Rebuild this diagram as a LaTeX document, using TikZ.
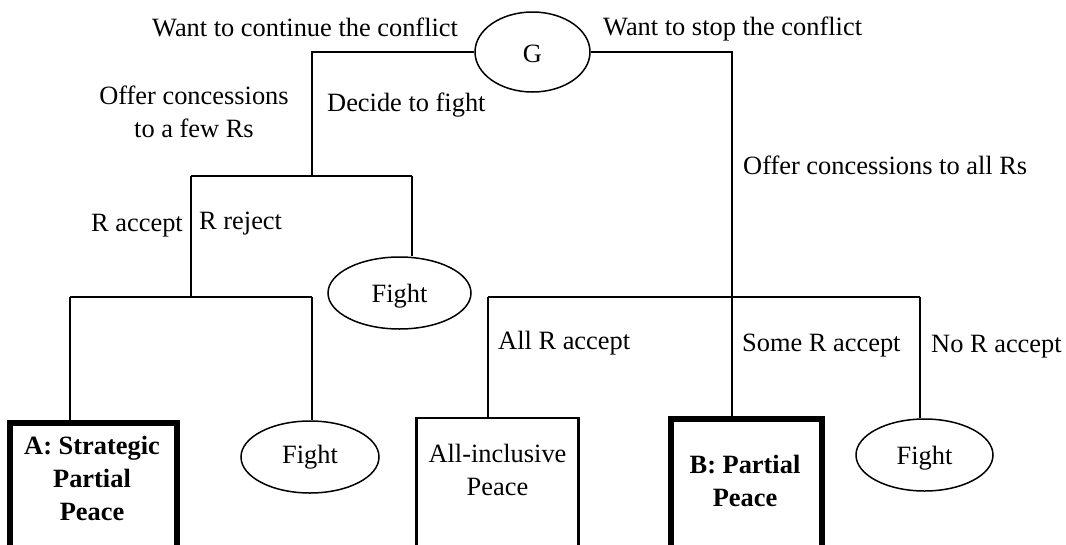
\documentclass[tikz,border=0pt]{standalone}
\usepackage{fontspec}
\setmainfont{Liberation Serif}
\usetikzlibrary{shapes.geometric}
\begin{document}
\begin{tikzpicture}[x=1pt,y=-1pt,
  every node/.style={font=\fontsize{26.4}{33}\selectfont, inner sep=0pt},
  conn/.style={line width=1.7pt},
  oval/.style={ellipse, draw, line width=1.5pt},
  thickbox/.style={rectangle, draw, line width=6pt, anchor=north},
  thinbox/.style={rectangle, draw, line width=2.8pt, anchor=north},
  lbl/.style={anchor=base west},
  boxtext/.style={align=center, font=\bfseries\fontsize{26.4}{33}\selectfont}]
\useasboundingbox (0,0) rectangle (1066,544);
\clip (0,0) rectangle (1066,544);

% decision nodes and outcomes
\node[oval, minimum width=115, minimum height=80, text height=20, text depth=0] (G) at (532.5,52) {G};
\node[oval, minimum width=143, minimum height=72, text depth=0] (F1) at (399.5,293) {Fight};
\node[oval, minimum width=138, minimum height=72] (F2) at (310,457) {Fight};
\node[oval, minimum width=137, minimum height=72, text depth=0] (F3) at (924.5,455) {Fight};

\node[thickbox, minimum width=166.5, minimum height=170] (A) at (93.25,420) {};
\node[thinbox, minimum width=162, minimum height=170] (AI) at (497.5,416.5) {};
\node[thickbox, minimum width=151.5, minimum height=170] (B) at (746.25,416) {};

\node[boxtext] (Atext) at (92,478.5) {A: Strategic\\Partial\\Peace};
\node[align=center] (AItext) at (497.5,469.5) {All-inclusive\\Peace};
\node[boxtext] (Btext) at (745,481) {B: Partial\\Peace};

% junctions
\coordinate (jL) at (312,176);
\coordinate (jLa) at (191,176);
\coordinate (jLb) at (412,176);
\coordinate (jA) at (191,297);
\coordinate (jAa) at (70,297);
\coordinate (jAb) at (312,297);
\coordinate (jR) at (732,297);
\coordinate (jRa) at (488,297);
\coordinate (jRb) at (920,297);

% connectors
\draw[conn] (G.west) -| (jL);
\draw[conn] (jLa) -- (jLb);
\draw[conn] (jLb) -- (jLb |- F1.north);
\draw[conn] (jLa) -- (jA);
\draw[conn] (jAa) -- (jAb);
\draw[conn] (jAa) -- (jAa |- A.north);
\draw[conn] (jAb) -- (jAb |- F2.north);
\draw[conn] (G.east) -| (jR);
\draw[conn] (jRa) -- (jRb);
\draw[conn] (jRa) -- (jRa |- AI.north);
\draw[conn] (jR) -- (jR |- B.north);
\draw[conn] (jRb) -- (jRb |- F3.north);

% labels
\node[lbl] (lcont) at (152,36) {Want to continue the conflict};
\node[lbl] (lstop) at (603,35) {Want to stop the conflict};
\node[align=center] (lfew) at (194,112) {Offer concessions\\to a few Rs};
\node[lbl] (ldecide) at (327,111) {Decide to fight};
\node[lbl] (lall) at (743,174) {Offer concessions to all Rs};
\node[lbl] (lracc) at (91,231) {R accept};
\node[lbl] (lrrej) at (199,229) {R reject};
\node[lbl] (lallr) at (498,349) {All R accept};
\node[lbl] (lsome) at (742,351) {Some R accept};
\node[lbl] (lno) at (931,352) {No R accept};
\end{tikzpicture}
\end{document}
